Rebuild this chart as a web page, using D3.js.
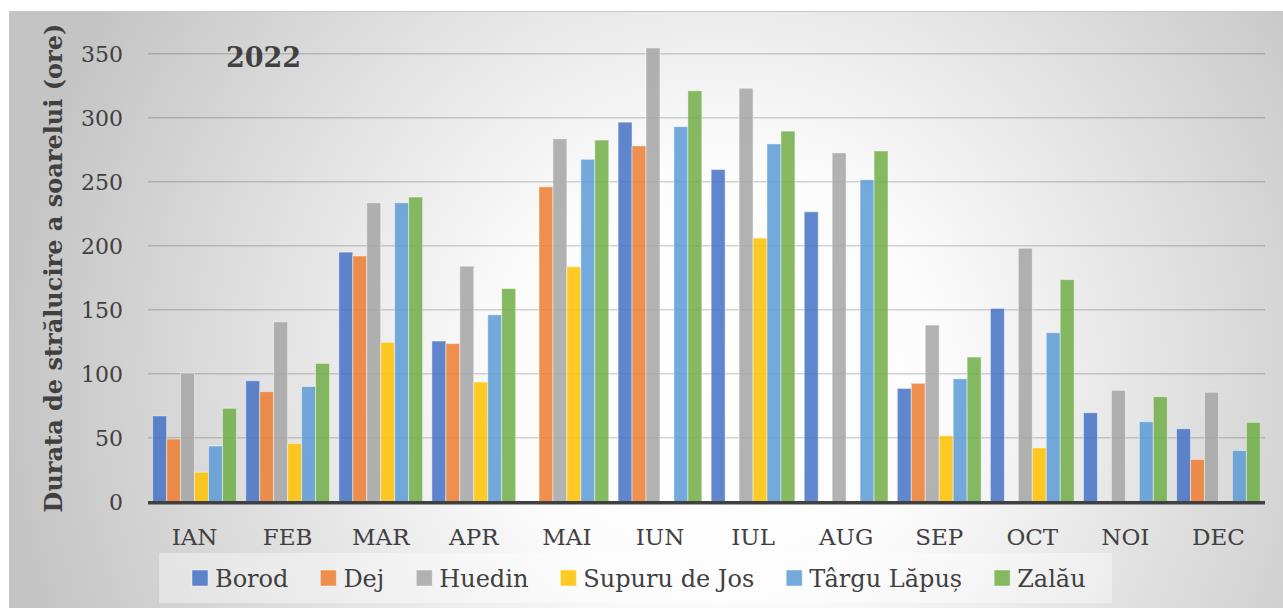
<!DOCTYPE html>
<html>
<head>
<meta charset="utf-8">
<script src="https://cdn.jsdelivr.net/npm/d3@7"></script>
<style>
  html, body { margin: 0; padding: 0; background: #ffffff; }
  svg { display: block; }
  text { font-family: "DejaVu Serif", "Liberation Serif", serif; fill: #404040; }
</style>
</head>
<body>
<svg id="chart" width="1283" height="608"></svg>
<script>
// Monthly sunshine duration (hours), 2022
const months = ["IAN", "FEB", "MAR", "APR", "MAI", "IUN", "IUL", "AUG", "SEP", "OCT", "NOI", "DEC"];
const stations = ["Borod", "Dej", "Huedin", "Supuru de Jos", "Târgu Lăpuș", "Zalău"];
const colors = ["#4472C4", "#ED7D31", "#A5A5A5", "#FFC000", "#5B9BD5", "#70AD47"];

const borod  = [67, 94.5, 195, 125.5, null, 296.5, 259.5, 226.5, 88.5, 151, 69.5, 57];
const dej    = [49, 86, 192, 123.5, 246, 278, null, null, 92.5, null, null, 33];
const huedin = [100.5, 140.5, 233.5, 184, 283.5, 354.5, 323, 272.5, 138, 198, 87, 85.5];
const supuru = [23, 45.5, 124.5, 93.5, 183.5, null, 206, null, 51.5, 42, null, null];
const targu  = [43.5, 90, 233.5, 146, 267.5, 293, 279.5, 251.5, 96, 132, 62.5, 40];
const zalau  = [73, 108, 238, 166.5, 282.5, 321, 289.5, 274, 113, 173.5, 82, 62];

const yTicks = [0, 50, 100, 150, 200, 250, 300, 350];
const title = "2022";
const yTitle = "Durata de strălucire a soarelui (ore)";

const seriesValues = [borod, dej, huedin, supuru, targu, zalau];
const FONT = "DejaVu Serif";

const svg = d3.select("#chart");
const W = 1283, H = 608;

// Background: radial grey-to-white fill of the chart area
const defs = svg.append("defs");
const grad = defs.append("radialGradient")
  .attr("id", "bg")
  .attr("gradientUnits", "userSpaceOnUse")
  .attr("cx", 720).attr("cy", 380).attr("r", 720);
grad.append("stop").attr("offset", "0").attr("stop-color", "#ffffff");
grad.append("stop").attr("offset", "0.3").attr("stop-color", "#fcfcfc");
grad.append("stop").attr("offset", "1").attr("stop-color", "#c4c4c4");

svg.append("rect").attr("x", 0).attr("y", 0).attr("width", W).attr("height", H).attr("fill", "#ffffff");
svg.append("rect")
  .attr("x", 9.5).attr("y", 11.5)
  .attr("width", W).attr("height", H)
  .attr("fill", "url(#bg)")
  .attr("stroke", "#c6c6c6").attr("stroke-width", 1);

// Scales
const plot = { left: 148, right: 1265, top: 54, bottom: 501.7 };
const x0 = d3.scaleBand().domain(months).range([plot.left, plot.right])
  .paddingInner(0.1).paddingOuter(0.05);
const x1 = d3.scaleBand().domain(stations).range([0, x0.bandwidth()]).padding(0);
const y = d3.scaleLinear().domain([0, 350]).range([plot.bottom, plot.bottom - 350 * 1.28]);
const color = d3.scaleOrdinal().domain(stations).range(colors);

// Gridlines
svg.append("g")
  .selectAll("line")
  .data(yTicks.filter(d => d > 0))
  .join("line")
  .attr("x1", plot.left).attr("x2", plot.right)
  .attr("y1", d => y(d)).attr("y2", d => y(d))
  .attr("stroke", "#000").attr("stroke-opacity", 0.17).attr("stroke-width", 1.5);

// Y axis labels
const yAxis = d3.axisLeft(y).tickValues(yTicks).tickSize(0).tickPadding(0);
const gy = svg.append("g").attr("transform", "translate(123,0)").call(yAxis);
gy.attr("font-family", FONT);
gy.select(".domain").remove();
gy.selectAll("text")
  .attr("font-family", FONT)
  .attr("font-size", 22)
  .attr("fill", "#404040")
  .attr("dy", "0.36em");

// Bars
const rows = months.map((m, i) => ({ month: m, values: stations.map((s, j) => ({ station: s, value: seriesValues[j][i] })) }));
svg.append("g")
  .selectAll("g")
  .data(rows)
  .join("g")
  .attr("transform", d => `translate(${x0(d.month)},0)`)
  .selectAll("rect")
  .data(d => d.values.filter(v => v.value != null))
  .join("rect")
  .attr("x", d => x1(d.station))
  .attr("y", d => y(d.value))
  .attr("width", x1.bandwidth())
  .attr("height", d => y(0) - y(d.value))
  .attr("fill", d => color(d.station))
  .attr("fill-opacity", 0.85)
  .attr("stroke", "#ffffff").attr("stroke-opacity", 0.45).attr("stroke-width", 1);

// X axis
const xAxis = d3.axisBottom(x0).tickSize(0).tickPadding(0);
const gx = svg.append("g").attr("transform", `translate(0,${plot.bottom})`).call(xAxis);
gx.attr("font-family", FONT);
gx.select(".domain").remove();
gx.selectAll("text")
  .attr("font-family", FONT)
  .attr("font-size", 23)
  .attr("fill", "#404040")
  .attr("y", 43).attr("dy", 0);
svg.append("line")
  .attr("x1", plot.left).attr("x2", plot.right)
  .attr("y1", plot.bottom + 1).attr("y2", plot.bottom + 1)
  .attr("stroke", "#404040").attr("stroke-width", 3.6);

// Title
svg.append("text")
  .attr("x", 226).attr("y", 67)
  .attr("font-family", FONT)
  .attr("font-size", 27).attr("font-weight", "bold")
  .attr("fill", "#404040")
  .text(title);

// Y axis title
svg.append("text")
  .attr("transform", "translate(62,268) rotate(-90)")
  .attr("text-anchor", "middle")
  .attr("font-family", FONT)
  .attr("font-size", 24).attr("font-weight", "bold")
  .attr("fill", "#404040")
  .text(yTitle);

// Legend
const legendBox = { x: 159, y: 553, w: 953, h: 50 };
svg.append("rect")
  .attr("x", legendBox.x).attr("y", legendBox.y)
  .attr("width", legendBox.w).attr("height", legendBox.h)
  .attr("fill", "#ffffff").attr("fill-opacity", 0.38);

const legend = svg.append("g");
const items = legend.selectAll("g").data(stations).join("g");
items.append("rect")
  .attr("width", 16).attr("height", 16)
  .attr("y", 570)
  .attr("fill", d => color(d)).attr("fill-opacity", 0.85)
  .attr("stroke", "#ffffff").attr("stroke-opacity", 0.45);
items.append("text")
  .attr("y", 587)
  .attr("font-family", FONT)
  .attr("font-size", 24)
  .attr("fill", "#404040")
  .text(d => d);

let cx = 192;
items.each(function () {
  const g = d3.select(this);
  const tw = g.select("text").node().getComputedTextLength();
  g.select("rect").attr("x", cx);
  g.select("text").attr("x", cx + 23);
  cx += 23 + tw + 32;
});
</script>
</body>
</html>
